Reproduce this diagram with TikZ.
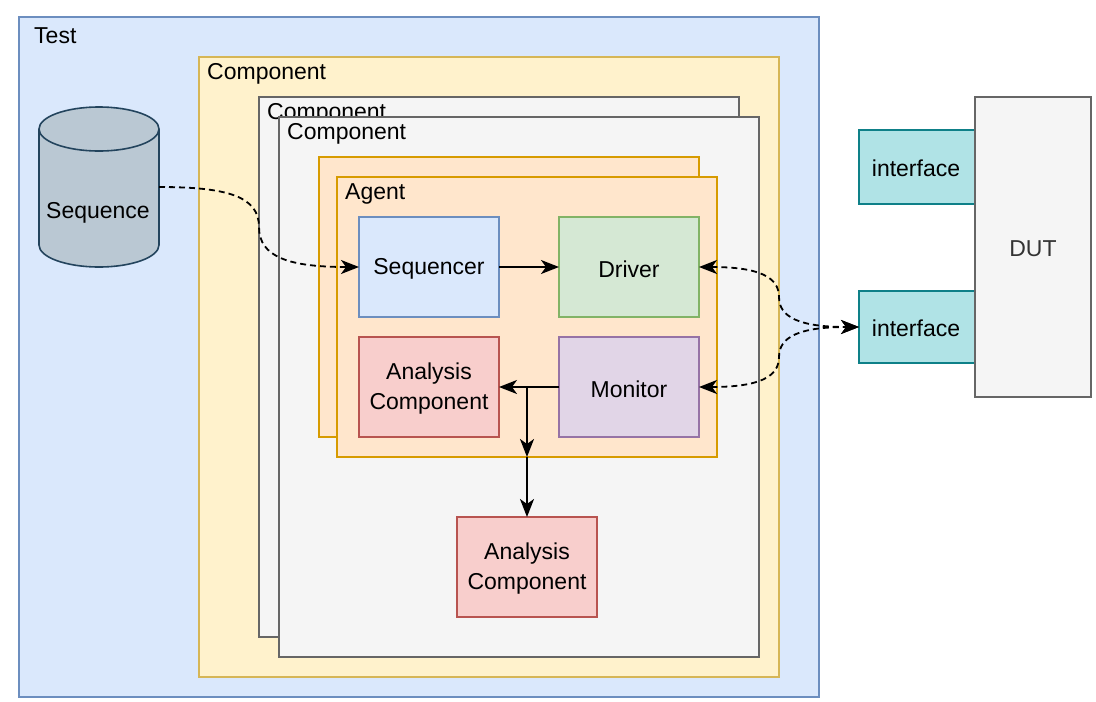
\documentclass[tikz,border=0pt]{standalone}
\usepackage{fontspec}
\setmainfont{Liberation Sans}
\usetikzlibrary{arrows.meta,calc}
\definecolor{bluef}{HTML}{DAE8FC}\definecolor{blues}{HTML}{6C8EBF}
\definecolor{yelf}{HTML}{FFF2CC}\definecolor{yels}{HTML}{D6B656}
\definecolor{grayf}{HTML}{F5F5F5}\definecolor{grays}{HTML}{666666}
\definecolor{oraf}{HTML}{FFE6CC}\definecolor{oras}{HTML}{D79B00}
\definecolor{grnf}{HTML}{D5E8D4}\definecolor{grns}{HTML}{82B366}
\definecolor{redf}{HTML}{F8CECC}\definecolor{reds}{HTML}{B85450}
\definecolor{purf}{HTML}{E1D5E7}\definecolor{purs}{HTML}{9673A6}
\definecolor{cylf}{HTML}{BAC8D3}\definecolor{cyls}{HTML}{23445D}
\definecolor{tealf}{HTML}{B0E3E6}\definecolor{teals}{HTML}{0E8088}
\definecolor{dutt}{HTML}{333333}
\tikzset{
  box/.style={rectangle, draw, line width=1.6pt, outer sep=0pt, inner sep=0pt, anchor=north west, align=center},
  txt/.style={yshift=-2pt, align=center},
  lbl/.style={anchor=west, inner sep=0pt, yshift=-2pt},
  tip/.tip={Stealth[length=18pt,width=14pt,inset=5pt]},
  arr/.style={line width=1.8pt, -tip},
  darr/.style={line width=1.8pt, dash pattern=on 6pt off 4pt, tip-tip},
  sarr/.style={line width=1.8pt, dash pattern=on 6pt off 4pt, -tip},
}
\begin{document}
\begin{tikzpicture}[x=1pt,y=-1pt,font=\fontsize{23}{30}\selectfont]
\useasboundingbox (0,0) rectangle (1096,702);
% Test
\node[box, fill=bluef, draw=blues, minimum width=800pt, minimum height=680pt] (test) at (19,17) {};
\node[lbl] (testl) at (34,34) {Test};
% Yellow component
\node[box, fill=yelf, draw=yels, minimum width=580pt, minimum height=620pt] (compy) at (199,57) {};
\node[lbl] (compyl) at (207,72) {Component};
% Gray back component
\node[box, fill=grayf, draw=grays, minimum width=480pt, minimum height=540pt] (compb) at (259,97) {};
\node[lbl] (compbl) at (267,112) {Component};
% Gray front component
\node[box, fill=grayf, draw=grays, minimum width=480pt, minimum height=540pt] (compf) at (279,117) {};
\node[lbl] (compfl) at (287,132) {Component};
% Agents
\node[box, fill=oraf, draw=oras, minimum width=380pt, minimum height=280pt] (agentb) at (319,157) {};
\node[box, fill=oraf, draw=oras, minimum width=380pt, minimum height=280pt] (agent) at (337,177) {};
\node[lbl] (agentl) at (345,192) {Agent};
% Inner boxes
\node[box, fill=bluef, draw=blues, minimum width=140pt, minimum height=100pt] (seqr) at (359,217) {};
\node[txt] (seqrt) at (seqr.center) {Sequencer};
\node[box, fill=grnf, draw=grns, minimum width=140pt, minimum height=100pt] (drv) at (559,217) {};
\node[txt] (drvt) at (drv.center) {Driver};
\node[box, fill=redf, draw=reds, minimum width=140pt, minimum height=100pt] (ac1) at (359,337) {};
\node[txt] (ac1t) at (ac1.center) {Analysis\\Component};
\node[box, fill=purf, draw=purs, minimum width=140pt, minimum height=100pt] (mon) at (559,337) {};
\node[txt] (mont) at (mon.center) {Monitor};
\node[box, fill=redf, draw=reds, minimum width=140pt, minimum height=100pt] (ac2) at (457,517) {};
\node[txt] (ac2t) at (ac2.center) {Analysis\\Component};
% Cylinder
\draw[fill=cylf, draw=cyls, line width=1.6pt] (39,129) -- (39,245) arc[start angle=180, end angle=360, x radius=60, y radius=-22] -- (159,129) arc[start angle=0, end angle=180, x radius=60, y radius=-22] -- cycle;
\draw[draw=cyls, line width=1.6pt] (39,129) arc[start angle=180, end angle=360, x radius=60, y radius=-22];
\coordinate (cylE) at (159,187);
\node[txt] (seq) at (98,211) {Sequence};
% Interfaces and DUT
\node[box, fill=tealf, draw=teals, minimum width=130pt, minimum height=74pt] (if1) at (859,130) {};
\node[txt] (if1t) at (916,166) {interface};
\node[box, fill=tealf, draw=teals, minimum width=130pt, minimum height=72pt] (if2) at (859,291) {};
\node[txt] (if2t) at (916,326) {interface};
\node[box, fill=grayf, draw=grays, minimum width=116pt, minimum height=300pt] (dut) at (975,97) {};
\node[txt, text=dutt] (dutt) at (dut.center) {DUT};
% Connectors
\draw[arr] (seqr.east) -- (drv.west);
\coordinate (j) at (527,387);
\draw[arr] (mon.west) -- (ac1.east);
\draw[arr] (j) -- (j |- agent.south);
\draw[arr] (j |- agent.south) -- (ac2.north);
\coordinate (ifL) at (if2.west);
\draw[sarr] (cylE) .. controls (229,187) and (259,197) .. (259,227) .. controls (259,257) and (289,267) .. (seqr.west);
\draw[darr] (drv.east) .. controls (759,267) and (779,277) .. (779,297) .. controls (779,317) and (799,327) .. (ifL);
\draw[darr] (mon.east) .. controls (759,387) and (779,377) .. (779,357) .. controls (779,337) and (799,327) .. (ifL);
\end{tikzpicture}
\end{document}
